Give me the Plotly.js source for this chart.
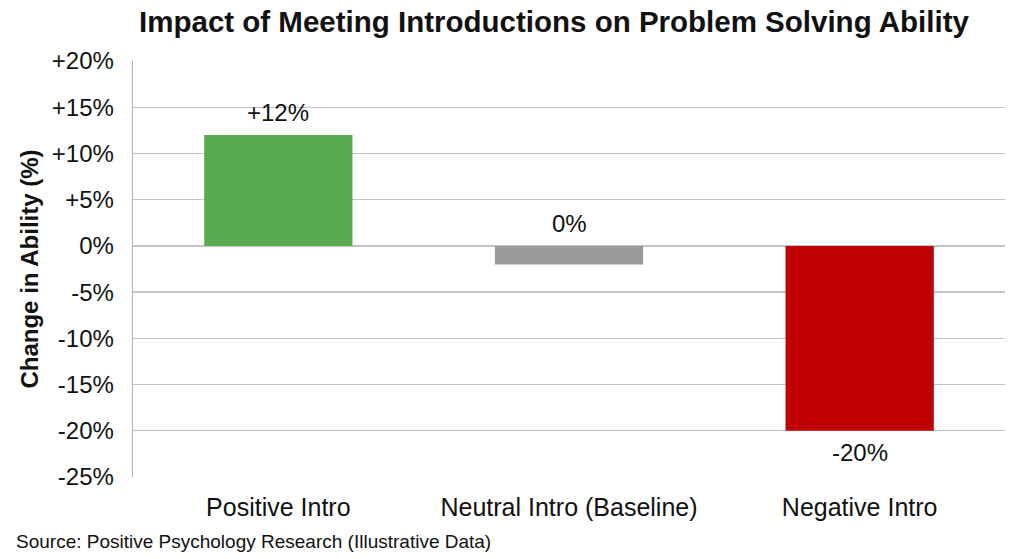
<!DOCTYPE html>
<html><head><meta charset="utf-8">
<script src="https://cdn.plot.ly/plotly-3.0.1.min.js"></script>
<style>html,body{margin:0;padding:0;background:#fff}#chart{width:1024px;height:559px}</style>
</head><body><div id="chart"></div>
<script>
const categories = ["Positive Intro", "Neutral Intro (Baseline)", "Negative Intro"];
const values = [12, -2, -20];
const valueLabels = ["+12%", "0%", "-20%"];
const barColors = ["#5aaa50", "#9b9b9b", "#c00000"];
const tickVals = [20, 15, 10, 5, 0, -5, -10, -15, -20, -25];
const tickText = ["+20%", "+15%", "+10%", "+5%", "0%", "-5%", "-10%", "-15%", "-20%", "-25%"];

const font = "Liberation Sans, Arial, sans-serif";
const annotations = categories.map((c, i) => {
  const v = values[i];
  const below = v < -5;
  return {
    x: c, y: below ? v : Math.max(v, 0), xref: "x", yref: "y",
    text: valueLabels[i], showarrow: false,
    yanchor: below ? "top" : "bottom", yshift: below ? -6 : 7,
    font: {family: font, size: 24, color: "#111"}
  };
});
annotations.push({
  xref: "paper", yref: "paper", x: -0.1365, y: -0.154, xanchor: "left", yanchor: "middle",
  text: "Source: Positive Psychology Research (Illustrative Data)", showarrow: false,
  font: {family: font, size: 19, color: "#111"}
});

Plotly.newPlot("chart", [{
  type: "bar", x: categories, y: values,
  marker: {color: barColors, line: {width: 0}},
  hoverinfo: "skip"
}], {
  width: 1024, height: 559,
  margin: {l: 133, r: 19, t: 61, b: 82},
  paper_bgcolor: "#fff", plot_bgcolor: "#fff",
  bargap: 0.49,
  showlegend: false,
  title: {text: "<b>Impact of Meeting Introductions on Problem Solving Ability</b>",
          x: 0.541, xanchor: "center", y: 0.962, yanchor: "middle",
          font: {family: font, size: 29.5, color: "#111"}},
  xaxis: {type: "category", showgrid: false, showline: false, ticks: "",
          tickfont: {family: font, size: 25, color: "#111"}, ticklabelstandoff: 13},
  yaxis: {range: [-25, 20], tickvals: tickVals, ticktext: tickText,
          showgrid: true, gridcolor: "#c4c4c4", gridwidth: 1.3,
          zeroline: false, showline: true, linecolor: "#b0b0b0", linewidth: 1.3,
          ticks: "", ticklabelstandoff: 13,
          tickfont: {family: font, size: 24, color: "#111"},
          title: {text: "<b>Change in Ability (%)</b>", standoff: 6,
                  font: {family: font, size: 24, color: "#111"}}},
  annotations: annotations
}, {staticPlot: true});
</script></body></html>
